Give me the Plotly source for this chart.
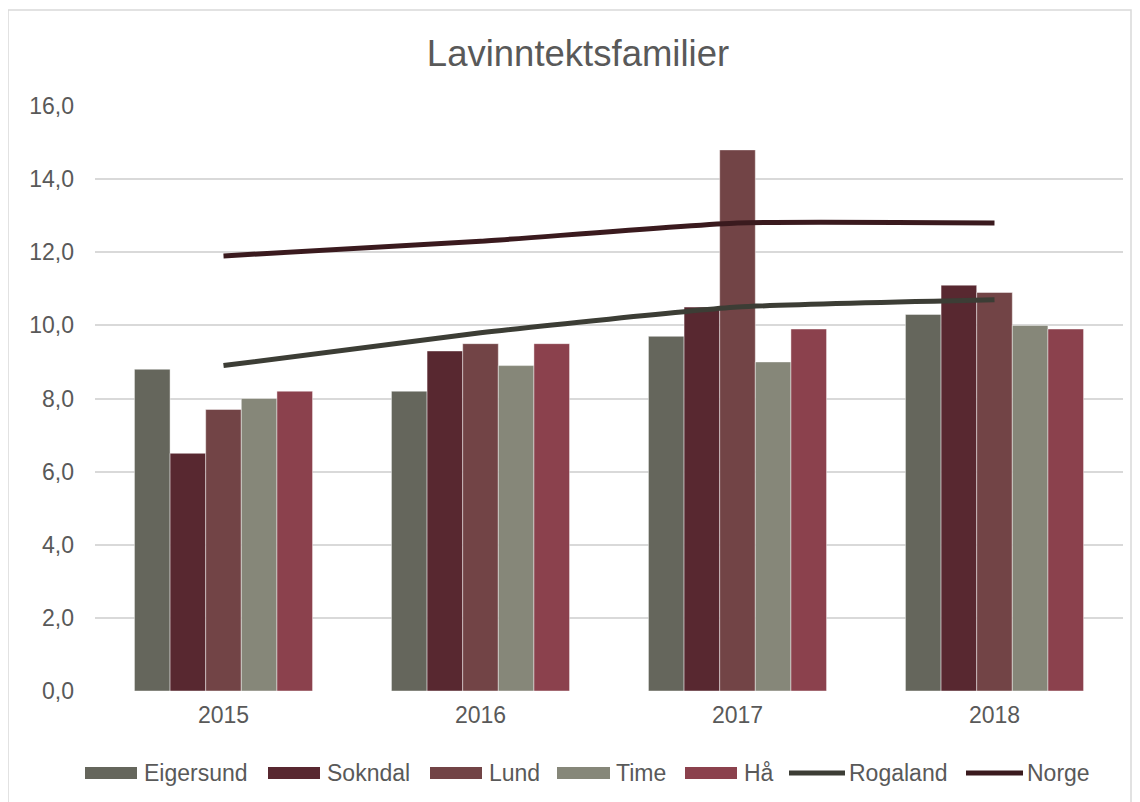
import plotly.graph_objects as go

# data
years = ['2015', '2016', '2017', '2018']
eigersund = [8.8, 8.2, 9.7, 10.3]
sokndal = [6.5, 9.3, 10.5, 11.1]
lund = [7.7, 9.5, 14.8, 10.9]
time_k = [8.0, 8.9, 9.0, 10.0]
haa = [8.2, 9.5, 9.9, 9.9]
rogaland = [8.9, 9.8, 10.5, 10.7]
norge = [11.9, 12.3, 12.8, 12.8]

TXT = '#595959'
GRID = '#d9d9d9'
FONT = 'Liberation Sans, Arial, sans-serif'

bar_series = [
    ('Eigersund', eigersund, '#65665c'),
    ('Sokndal', sokndal, '#582830'),
    ('Lund', lund, '#724446'),
    ('Time', time_k, '#868779'),
    ('Hå', haa, '#8b414d'),
]
line_series = [('Rogaland', rogaland, '#3c3d35'), ('Norge', norge, '#3a1a1e')]

fig = go.Figure()
for name, vals, col in bar_series:
    fig.add_trace(go.Bar(
        x=years, y=vals, name=name,
        marker=dict(color=col, line=dict(color='rgba(255,255,255,0.55)', width=0.8)),
    ))
for name, vals, col in line_series:
    fig.add_trace(go.Scatter(
        x=years, y=vals, name=name, mode='lines',
        line=dict(color=col, width=5, shape='spline', smoothing=0.45),
    ))

# screen px -> paper coords (plot area 95..1123 x 106..691 on screen)
def px(X):
    return (X - 95) / 1028

def py(Y):
    return (691 - Y) / 585

# outer chart frame
fig.add_shape(type='rect', xref='paper', yref='paper',
              x0=px(8), x1=px(1131), y0=py(815), y1=py(10),
              line=dict(color=GRID, width=1.5), fillcolor='rgba(0,0,0,0)', layer='below')

# legend drawn by hand (wide swatches like the original)
leg_y = 773
legend_items = [
    ('Eigersund', '#65665c', 'bar', 85, 137, 142),
    ('Sokndal', '#582830', 'bar', 268, 320, 325),
    ('Lund', '#724446', 'bar', 430, 482, 487),
    ('Time', '#868779', 'bar', 557, 610, 614),
    ('Hå', '#8b414d', 'bar', 685, 737, 742),
    ('Rogaland', '#3c3d35', 'line', 789, 845, 847),
    ('Norge', '#3a1a1e', 'line', 966, 1023, 1025),
]
for name, col, kind, s0, s1, tx in legend_items:
    if kind == 'bar':
        fig.add_shape(type='rect', xref='paper', yref='paper',
                      x0=px(s0), x1=px(s1), y0=py(leg_y + 6), y1=py(leg_y - 6),
                      fillcolor=col, line=dict(width=0))
    else:
        fig.add_shape(type='line', xref='paper', yref='paper',
                      x0=px(s0), x1=px(s1), y0=py(leg_y), y1=py(leg_y),
                      line=dict(color=col, width=5))
    fig.add_annotation(x=px(tx), y=py(leg_y), xref='paper', yref='paper',
                       text=name, showarrow=False, xanchor='left', yanchor='middle',
                       font=dict(size=23, color=TXT))

fig.update_layout(
    width=1140, height=802,
    margin=dict(l=87, r=25, t=98, b=119),
    paper_bgcolor='white', plot_bgcolor='white',
    font=dict(family=FONT, color=TXT, size=23),
    title=dict(text='Lavinntektsfamilier', x=0.5, xanchor='center',
               y=0.943, yanchor='middle', font=dict(size=36.5, color=TXT)),
    barmode='group', bargap=0.307, bargroupgap=0,
    xaxis=dict(showgrid=False, showline=False, ticks='', ticklabelstandoff=8,
               tickfont=dict(size=23, color=TXT)),
    yaxis=dict(range=[0, 16], dtick=2, tickformat='.1f',
               gridcolor=GRID, gridwidth=1.5, zeroline=False, showline=False,
               ticklabelstandoff=20, tickfont=dict(size=23, color=TXT)),
    separators=', ',
    showlegend=False,
)

fig.write_html('out.html')
